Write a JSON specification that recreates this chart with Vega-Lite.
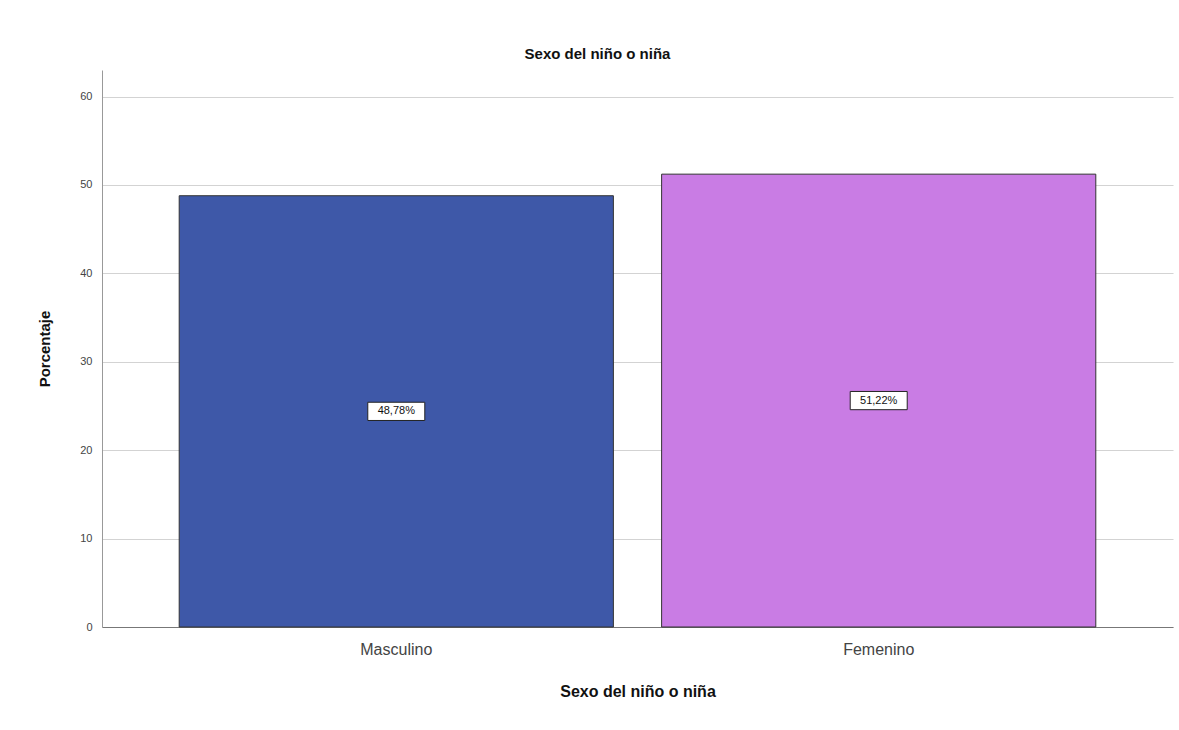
{
  "$schema": "https://vega.github.io/schema/vega-lite/v6.json",
  "width": 1071,
  "height": 557,
  "autosize": "none",
  "padding": {"left": 102, "top": 70, "right": 6, "bottom": 103},
  "background": "white",
  "config": {"view": {"stroke": null}, "font": "Liberation Sans"},
  "title": {"text": "Sexo del niño o niña", "fontSize": 15, "fontWeight": "bold", "font": "Liberation Sans", "color": "#111", "offset": 8, "dx": -40, "anchor": "middle"},
  "data": {"values": [{"sexo": "Masculino", "pct": 48.78}, {"sexo": "Femenino", "pct": 51.22}]},
  "transform": [
    {"calculate": "datum.pct/2", "as": "mid"},
    {"calculate": "replace(format(datum.pct,'.2f'),'.',',')+'%'", "as": "label"}
  ],
  "encoding": {
    "x": {
      "field": "sexo", "type": "nominal", "sort": ["Masculino", "Femenino"],
      "scale": {"paddingInner": 0.1, "paddingOuter": 0.16},
      "axis": {"title": "Sexo del niño o niña", "titleFontSize": 16, "titleFontWeight": "bold", "titleColor": "#111", "titlePadding": 26, "labelAngle": 0, "labelFontSize": 16, "labelColor": "#444", "labelPadding": 14, "ticks": false, "domainColor": "#777", "grid": false}
    }
  },
  "layer": [
    {
      "mark": {"type": "bar", "stroke": "#333", "strokeWidth": 1},
      "encoding": {
        "y": {"field": "pct", "type": "quantitative", "scale": {"domain": [0, 63], "nice": false},
          "axis": {"title": "Porcentaje", "titleFontSize": 15, "titleFontWeight": "bold", "titleColor": "#111", "titlePadding": 27, "values": [0, 10, 20, 30, 40, 50, 60], "labelFontSize": 11, "labelColor": "#444", "labelPadding": 10, "ticks": false, "domainColor": "#999", "gridColor": "#d3d3d3"}},
        "color": {"field": "sexo", "type": "nominal", "scale": {"domain": ["Masculino", "Femenino"], "range": ["#3e58a8", "#c97ce4"]}, "legend": null}
      }
    },
    {
      "mark": {"type": "point", "shape": "M-1,-0.32L1,-0.32L1,0.32L-1,0.32Z", "filled": true, "fill": "white", "stroke": "#222", "strokeWidth": 1, "opacity": 1, "size": 3249},
      "encoding": {"y": {"field": "mid", "type": "quantitative"}}
    },
    {
      "mark": {"type": "text", "font": "Liberation Sans", "fontSize": 11, "color": "#111"},
      "encoding": {"y": {"field": "mid", "type": "quantitative"}, "text": {"field": "label"}}
    }
  ]
}
